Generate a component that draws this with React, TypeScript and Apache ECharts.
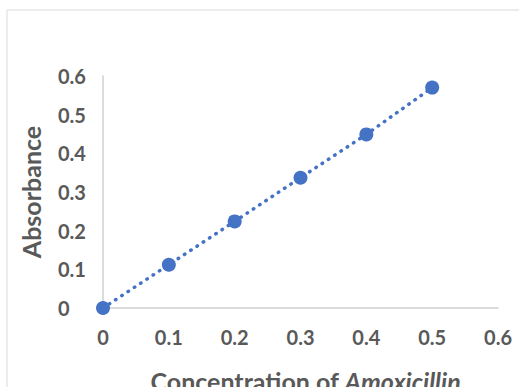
import React, { useEffect, useRef } from "react";
import * as echarts from "echarts";

const concentrations = [0, 0.1, 0.2, 0.3, 0.4, 0.5];
const absorbance = [0.0, 0.112, 0.224, 0.337, 0.449, 0.57];
const xTicks = [0, 0.1, 0.2, 0.3, 0.4, 0.5, 0.6];
const yTicks = [0, 0.1, 0.2, 0.3, 0.4, 0.5, 0.6];

const FONT = "Lato";
const GRAY = "#595959";

export default function App() {
  const ref = useRef<HTMLDivElement>(null);
  useEffect(() => {
    if (!ref.current) return;
    const chart = echarts.init(ref.current, null, { renderer: "svg" });
    chart.setOption({
      animation: false,
      backgroundColor: "#ffffff",
      graphic: [
        {
          type: "rect",
          shape: { x: 7, y: 10, width: 700, height: 700 },
          style: { fill: "none", stroke: "#d9d9d9", lineWidth: 1 },
          silent: true,
        },
      ],
      grid: { left: 103, right: 21, top: 76, bottom: 79, outerBoundsMode: "none", containLabel: false },
      xAxis: {
        type: "value",
        min: xTicks[0],
        max: xTicks[xTicks.length - 1],
        interval: 0.1,
        axisLine: { show: true, lineStyle: { color: "#d0d0d0", width: 1.5 } },
        axisTick: { show: false },
        splitLine: { show: false },
        axisLabel: {
          margin: 19,
          color: GRAY,
          fontFamily: FONT,
          fontWeight: "bold",
          fontSize: 20,
          formatter: (v: number) => String(Math.round(v * 10) / 10),
        },
        name: "{n|Concentration of }{i|Amoxicillin}",
        nameLocation: "middle",
        nameGap: 60,
        nameTextStyle: {
          padding: [0, 0, 0, 10],
          rich: {
            n: { color: GRAY, fontFamily: FONT, fontWeight: "bold", fontSize: 25 },
            i: { color: GRAY, fontFamily: FONT, fontWeight: "bold", fontStyle: "italic", fontSize: 25 },
          },
        },
      },
      yAxis: {
        type: "value",
        min: yTicks[0],
        max: yTicks[yTicks.length - 1],
        interval: 0.1,
        axisLine: { show: true, lineStyle: { color: "#d0d0d0", width: 1.5 } },
        axisTick: { show: false },
        splitLine: { show: false },
        axisLabel: {
          margin: 45,
          align: "left",
          color: GRAY,
          fontFamily: FONT,
          fontWeight: "bold",
          fontSize: 20,
          formatter: (v: number) => String(Math.round(v * 10) / 10),
        },
        name: "Absorbance",
        nameLocation: "middle",
        nameGap: 60,
        nameRotate: 90,
        nameTextStyle: {
          color: GRAY,
          fontFamily: FONT,
          fontWeight: "bold",
          fontSize: 25,
        },
      },
      series: [
        {
          type: "line",
          data: concentrations.map((c, i) => [c, absorbance[i]]),
          symbol: "circle",
          symbolSize: 14,
          itemStyle: { color: "#4472C4" },
          lineStyle: { color: "#4472C4", width: 3.5, type: [0.5, 7], cap: "round" },
        },
      ],
    });
    return () => chart.dispose();
  }, []);
  return (
    <div
      ref={ref}
      style={{ position: "absolute", left: 0, top: 0, width: 519, height: 387 }}
    />
  );
}
